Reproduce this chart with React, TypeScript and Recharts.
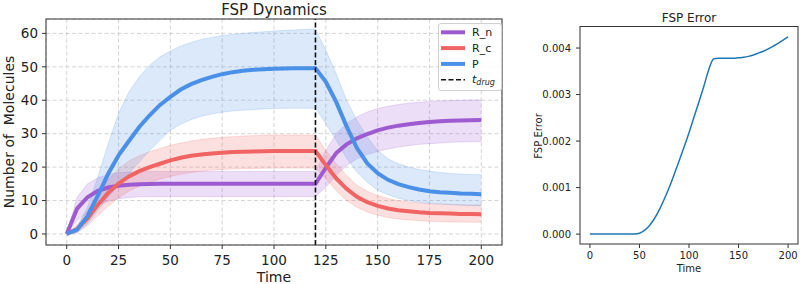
import React from 'react';
import { ComposedChart, Line, Area, XAxis, YAxis, CartesianGrid, ReferenceLine } from 'recharts';

const TIME = [0, 5, 10, 15, 20, 25, 30, 35, 40, 45, 50, 55, 60, 65, 70, 75, 80, 85, 90, 95, 100, 105, 110, 115, 120, 125, 130, 135, 140, 145, 150, 155, 160, 165, 170, 175, 180, 185, 190, 195, 200];

const R_N_MEAN = [0, 7.6, 11, 12.9, 13.9, 14.4, 14.7, 14.85, 14.95, 15, 15, 15, 15, 15, 15, 15, 15, 15, 15, 15, 15, 15, 15, 15, 15, 19.8, 24.2, 26.8, 28.6, 29.9, 31, 31.8, 32.4, 32.8, 33.2, 33.5, 33.7, 33.85, 33.95, 34.05, 34.1];
const R_N_LOW = [0, 4, 6.5, 8.5, 9.8, 10.5, 10.9, 11.1, 11.2, 11.2, 11.2, 11.2, 11.2, 11.2, 11.2, 11.2, 11.2, 11.2, 11.2, 11.2, 11.2, 11.2, 11.2, 11.2, 11.2, 14, 17.5, 20.5, 22.5, 23.8, 24.7, 25.4, 26, 26.4, 26.8, 27, 27.2, 27.4, 27.5, 27.6, 27.6];
const R_N_HIGH = [0, 11, 15, 16.8, 17.8, 18.3, 18.5, 18.6, 18.7, 18.7, 18.7, 18.7, 18.7, 18.7, 18.7, 18.7, 18.7, 18.7, 18.7, 18.7, 18.7, 18.7, 18.7, 18.7, 18.7, 25, 30, 33, 35, 36.5, 37.5, 38.2, 38.7, 39.1, 39.4, 39.6, 39.8, 39.9, 40, 40.1, 40.1];

const R_C_MEAN = [0, 1.5, 4.6, 8.7, 12.3, 15.1, 17.2, 18.8, 20, 21, 22, 22.8, 23.4, 23.8, 24.1, 24.3, 24.5, 24.6, 24.7, 24.75, 24.8, 24.8, 24.8, 24.8, 24.8, 20.6, 16.6, 13.5, 11.1, 9.5, 8.4, 7.6, 7.1, 6.8, 6.5, 6.3, 6.2, 6.1, 6, 5.95, 5.9];
const R_C_LOW = [0, 0.3, 2.5, 5.5, 8.3, 10.8, 12.8, 14.3, 15.4, 16.4, 17.2, 17.9, 18.4, 18.8, 19.1, 19.3, 19.4, 19.5, 19.6, 19.65, 19.7, 19.7, 19.7, 19.7, 19.7, 16.5, 13, 10, 8, 6.6, 5.6, 4.9, 4.5, 4.2, 4, 3.8, 3.7, 3.6, 3.55, 3.5, 3.5];
const R_C_HIGH = [0, 2.8, 7, 12, 16.2, 19.5, 21.8, 23.4, 24.6, 25.6, 26.5, 27.2, 27.8, 28.3, 28.6, 28.9, 29.1, 29.3, 29.4, 29.5, 29.6, 29.6, 29.6, 29.6, 29.6, 25, 21, 17.5, 14.6, 12.8, 11.5, 10.6, 10, 9.6, 9.3, 9.1, 8.9, 8.8, 8.75, 8.7, 8.7];

const P_MEAN = [0, 1.3, 5.3, 11.5, 18, 23.5, 27.8, 32, 35.5, 38.6, 41, 43.2, 44.8, 46, 47, 47.8, 48.4, 48.8, 49.1, 49.3, 49.4, 49.5, 49.6, 49.6, 49.6, 45.5, 39.5, 32.2, 25.7, 21.1, 18.2, 16.2, 14.9, 14, 13.3, 12.8, 12.5, 12.3, 12.1, 12, 11.9];
const P_LOW = [0, 0.5, 3, 7, 11, 14.5, 18, 21.5, 25, 28, 31, 32.8, 34.2, 35.2, 35.9, 36.4, 36.8, 37, 37.2, 37.4, 37.5, 37.6, 37.6, 37.6, 37.6, 33, 28, 22.7, 18.5, 15.5, 13.1, 11.7, 10.7, 10, 9.5, 9.2, 9, 8.8, 8.6, 8.5, 8.4];
const P_HIGH = [0, 2, 8, 17, 27, 36, 42.5, 47, 50.5, 53, 54.7, 56.2, 57.3, 58.2, 58.8, 59.3, 59.7, 60, 60.3, 60.5, 60.7, 60.9, 61, 61.2, 61.3, 55, 48, 40, 34, 29, 25, 22.5, 21, 20, 19.3, 18.8, 18.4, 18.1, 17.9, 17.8, 17.7];

const FSP_ERROR = [0, 0, 0, 0, 0, 0, 0, 0, 0, 0.000003, 0.00002, 0.00008, 0.00018, 0.00033, 0.00052, 0.00075, 0.001, 0.00128, 0.00157, 0.00187, 0.00218, 0.00251, 0.00284, 0.00318, 0.00354, 0.00377, 0.00378, 0.00378, 0.00378, 0.00378, 0.00379, 0.0038, 0.00382, 0.00385, 0.00389, 0.00393, 0.00398, 0.00404, 0.0041, 0.00417, 0.00424];

const T_DRUG = 120;
const X_TICKS_LEFT = [0, 25, 50, 75, 100, 125, 150, 175, 200];
const Y_TICKS_LEFT = [0, 10, 20, 30, 40, 50, 60];
const X_TICKS_RIGHT = [0, 50, 100, 150, 200];
const Y_TICKS_RIGHT = [0, 0.001, 0.002, 0.003, 0.004];

const SERIES = [
  { key: 'rn', name: 'R_n', color: '#9e5bd1' },
  { key: 'rc', name: 'R_c', color: '#f06464' },
  { key: 'p', name: 'P', color: '#4a8fe8' },
];

const dynamicsData = TIME.map((t, i) => ({
  t,
  rn: R_N_MEAN[i],
  rc: R_C_MEAN[i],
  p: P_MEAN[i],
  rnBand: [R_N_LOW[i], R_N_HIGH[i]],
  rcBand: [R_C_LOW[i], R_C_HIGH[i]],
  pBand: [P_LOW[i], P_HIGH[i]],
}));

const errorData = TIME.map((t, i) => ({ t, err: FSP_ERROR[i] }));

const FONT = '"DejaVu Sans", Verdana, sans-serif';

export default function App() {
  const tickL = { fontSize: 13.5, fill: '#222', fontFamily: FONT };
  const tickR = { fontSize: 10, fill: '#222', fontFamily: FONT };
  return (
    <div style={{ position: 'absolute', left: 0, top: 0, width: 800, height: 284, background: '#fff', fontFamily: FONT }}>
      <div style={{ position: 'absolute', left: 0, top: 0 }}>
        <ComposedChart width={520} height={284} data={dynamicsData} margin={{ top: 19, right: 18, bottom: 0, left: 0 }}>
          <CartesianGrid stroke="#c9c9c9" strokeDasharray="4 2.5" strokeWidth={0.8} />
          <XAxis dataKey="t" type="number" domain={[-10, 210]} ticks={X_TICKS_LEFT} height={39} axisLine={false}
            tickLine={{ stroke: '#333' }} tickSize={4} tickMargin={6} tick={tickL} allowDataOverflow interval={0} />
          <YAxis type="number" domain={[-3.3, 64.3]} ticks={Y_TICKS_LEFT} width={46} axisLine={false}
            tickLine={{ stroke: '#333' }} tickSize={4} tickMargin={4} tick={tickL} allowDataOverflow interval={0} />
          {SERIES.map((s) => (
            <Area key={s.key + 'Band'} dataKey={s.key + 'Band'} type="linear" stroke={s.color} strokeOpacity={0.25}
              strokeWidth={0.8} fill={s.color} fillOpacity={0.2} isAnimationActive={false} dot={false} activeDot={false} />
          ))}
          {SERIES.map((s) => (
            <Line key={s.key} dataKey={s.key} type="linear" stroke={s.color} strokeWidth={4} dot={false}
              activeDot={false} isAnimationActive={false} />
          ))}
          <ReferenceLine x={T_DRUG} stroke="#111" strokeDasharray="5 2.5" strokeWidth={1.6} />
        </ComposedChart>
      </div>
      <div style={{ position: 'absolute', left: 520, top: 0 }}>
        <ComposedChart width={280} height={284} data={errorData} margin={{ top: 26.5, right: 2, bottom: 0, left: 0 }}>
          <XAxis dataKey="t" type="number" domain={[-10, 210]} ticks={X_TICKS_RIGHT} height={40} axisLine={false}
            tickLine={{ stroke: '#333' }} tickSize={4} tickMargin={4} tick={tickR} allowDataOverflow interval={0} />
          <YAxis type="number" domain={[-0.0002125, 0.0044625]} ticks={Y_TICKS_RIGHT} width={60} axisLine={false}
            tickLine={{ stroke: '#333' }} tickSize={4} tickMargin={5} tick={tickR} allowDataOverflow interval={0}
            tickFormatter={(v: number) => v.toFixed(3)} />
          <Line dataKey="err" type="monotone" stroke="#1f77b4" strokeWidth={1.5} dot={false} activeDot={false}
            isAnimationActive={false} />
        </ComposedChart>
      </div>
      <svg width={800} height={284} style={{ position: 'absolute', left: 0, top: 0, pointerEvents: 'none' }}>
        <rect x={46} y={19} width={456} height={226} fill="none" stroke="#333" strokeWidth={1} />
        <rect x={580} y={26.5} width={218} height={217.5} fill="none" stroke="#333" strokeWidth={1} />
        <text x={274} y={14.5} textAnchor="middle" fontSize={15} fill="#222" fontFamily={FONT}>FSP Dynamics</text>
        <text x={274} y={282} textAnchor="middle" fontSize={14} fill="#222" fontFamily={FONT}>Time</text>
        <text transform="translate(14,132) rotate(-90)" textAnchor="middle" fontSize={14} fill="#222"
          fontFamily={FONT} style={{ whiteSpace: 'pre' }}>{'Number of  Molecules'}</text>
        <text x={689} y={21.5} textAnchor="middle" fontSize={12} fill="#222" fontFamily={FONT}>FSP Error</text>
        <text x={689} y={271.5} textAnchor="middle" fontSize={10} fill="#222" fontFamily={FONT}>Time</text>
        <text transform="translate(541.5,136) rotate(-90)" textAnchor="middle" fontSize={10} fill="#222"
          fontFamily={FONT}>FSP Error</text>
        <g>
          <rect x={438.5} y={23.5} width={63} height={67} rx={2.5} fill="#fff" fillOpacity={0.85} stroke="#d0d0d0" strokeWidth={1} />
          {SERIES.map((s, i) => (
            <g key={s.key}>
              <line x1={441} x2={465} y1={32.3 + i * 15.8} y2={32.3 + i * 15.8} stroke={s.color} strokeWidth={4} />
              <text x={472} y={32.3 + i * 15.8 + 4} fontSize={11} fill="#222" fontFamily={FONT}>{s.name}</text>
            </g>
          ))}
          <line x1={441} x2={465} y1={79.7} y2={79.7} stroke="#111" strokeWidth={1.6} strokeDasharray="5 2.5" />
          <text x={472} y={82.5} fontSize={11} fill="#222" fontFamily={FONT} fontStyle="italic">
            t<tspan dy={2.5} fontSize={8}>drug</tspan>
          </text>
        </g>
      </svg>
    </div>
  );
}
